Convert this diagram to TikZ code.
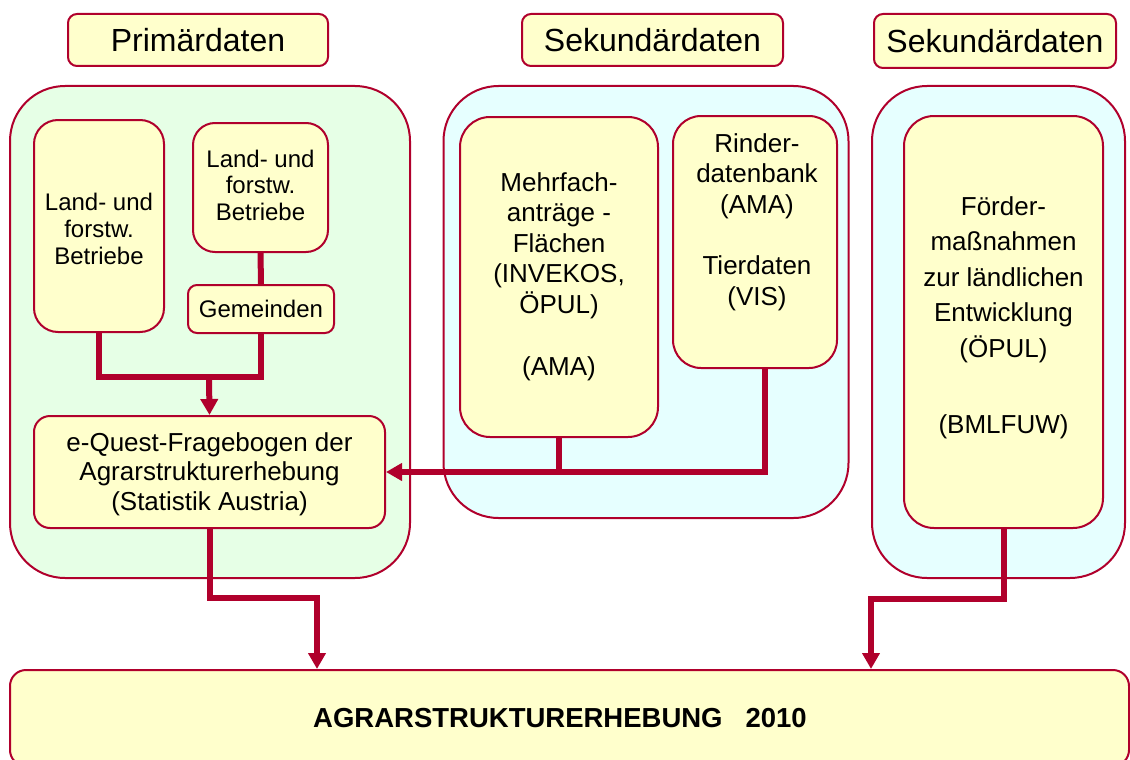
\documentclass[tikz,border=0pt]{standalone}
\usepackage{fontspec}
\setmainfont{Liberation Sans}
\usetikzlibrary{arrows.meta}
\definecolor{dred}{RGB}{176,0,44}
\definecolor{lyel}{RGB}{255,255,204}
\definecolor{lgreen}{RGB}{230,255,230}
\definecolor{lcyan}{RGB}{230,255,255}
\tikzset{
  outl/.style={draw=dred, line width=2pt},
  ybox/.style={outl, fill=lyel, align=center, inner sep=0pt},
  cont/.style={outl, inner sep=0pt, rounded corners=55pt},
  conn/.style={draw=dred, line width=6pt},
  arr/.style={conn, -{Triangle[width=17pt,length=16pt]}},
  ttl/.style={ybox, rounded corners=9pt, font=\fontsize{32}{37}\selectfont},
  txt/.style={align=center, inner sep=0pt, font=\fontsize{26}{30.5}\selectfont},
  stxt/.style={font=\fontsize{24}{27}\selectfont},
}
\begin{document}
\begin{tikzpicture}[x=1pt,y=-1pt]
\useasboundingbox (0,0) rectangle (1130,760);
% titles
\node[ttl, minimum width=260pt, minimum height=52pt] (t1) at (198,40) {Primärdaten};
\node[ttl, minimum width=261pt, minimum height=52pt] (t2) at (652.5,40) {Sekundärdaten};
\node[ttl, minimum width=242pt, minimum height=54pt] (t3) at (995,41) {Sekundärdaten};
% containers
\node[cont, fill=lgreen, minimum width=400pt, minimum height=492pt] (g) at (210,332) {};
\node[cont, fill=lcyan, minimum width=405pt, minimum height=432pt] (c1) at (646,302) {};
\node[cont, fill=lcyan, minimum width=253pt, minimum height=492pt] (c2) at (998.5,332) {};
% inner boxes
\node[ybox, stxt, rounded corners=24pt, minimum width=130pt, minimum height=212pt] (b1) at (99,226) {};
\node[stxt, align=center, inner sep=0pt] (b1txt) at (99,229) {Land- und\\forstw.\\Betriebe};
\node[ybox, rounded corners=22pt, minimum width=135pt, minimum height=129pt] (b2) at (260.5,187.5) {};
\node[align=center, inner sep=0pt, font=\fontsize{24}{26.5}\selectfont] (b2txt) at (260.5,185) {Land- und\\forstw.\\Betriebe};
\node[ybox, stxt, rounded corners=9pt, minimum width=146pt, minimum height=48pt] (gem) at (261,309) {Gemeinden};
\node[ybox, rounded corners=16pt, minimum width=351pt, minimum height=112pt] (equest) at (209.5,472) {};
\node[txt, font=\fontsize{26}{29.5}\selectfont] (eqtxt) at (209.5,474) {e-Quest-Fragebogen der\\Agrarstrukturerhebung\\(Statistik Austria)};
\node[ybox, txt, rounded corners=30pt, minimum width=198pt, minimum height=320pt] (mehr) at (559,277) {Mehrfach-\\anträge -\\Flächen\\(INVEKOS,\\ÖPUL)\\[32pt](AMA)};
\node[ybox, rounded corners=28pt, minimum width=164pt, minimum height=252pt] (rinder) at (755,242) {};
\node[txt] (rtxt) at (757,222) {Rinder-\\datenbank\\(AMA)\\[31pt]Tierdaten\\(VIS)};
\node[ybox, rounded corners=30pt, minimum width=199pt, minimum height=412pt] (foer) at (1003.5,322) {};
\node[txt, font=\fontsize{26}{35.5}\selectfont] (ftxt) at (1003.5,318) {Förder-\\maßnahmen\\zur ländlichen\\Entwicklung\\(ÖPUL)\\[41pt](BMLFUW)};
% bottom
\node[ybox, rounded corners=16pt, minimum width=1119pt, minimum height=96pt] (bottom) at (569.5,718) {};
\node[inner sep=0pt, font=\fontsize{27.5}{32}\selectfont\bfseries] (btxt) at (560,718) {AGRARSTRUKTURERHEBUNG\ \ \ 2010};
% connectors
\coordinate (j1) at (209,377);
\draw[conn] (b2.south) -- (gem.north);
\draw[conn] (b1.south) -- (b1.south |- j1) -- (gem.south |- j1) -- (gem.south);
\draw[arr] (j1) -- (equest.north);
\draw[conn] (mehr.south) -- (mehr.south |- equest.east);
\draw[arr] ([xshift=10pt]rinder.south) |- (equest.east);
\coordinate (k1) at (317,598);
\coordinate (k2) at (871,599);
\draw[arr] (equest.south) |- (k1) -- (k1 |- bottom.north);
\draw[arr] (foer.south) |- (k2) -- (k2 |- bottom.north);
\end{tikzpicture}
\end{document}
